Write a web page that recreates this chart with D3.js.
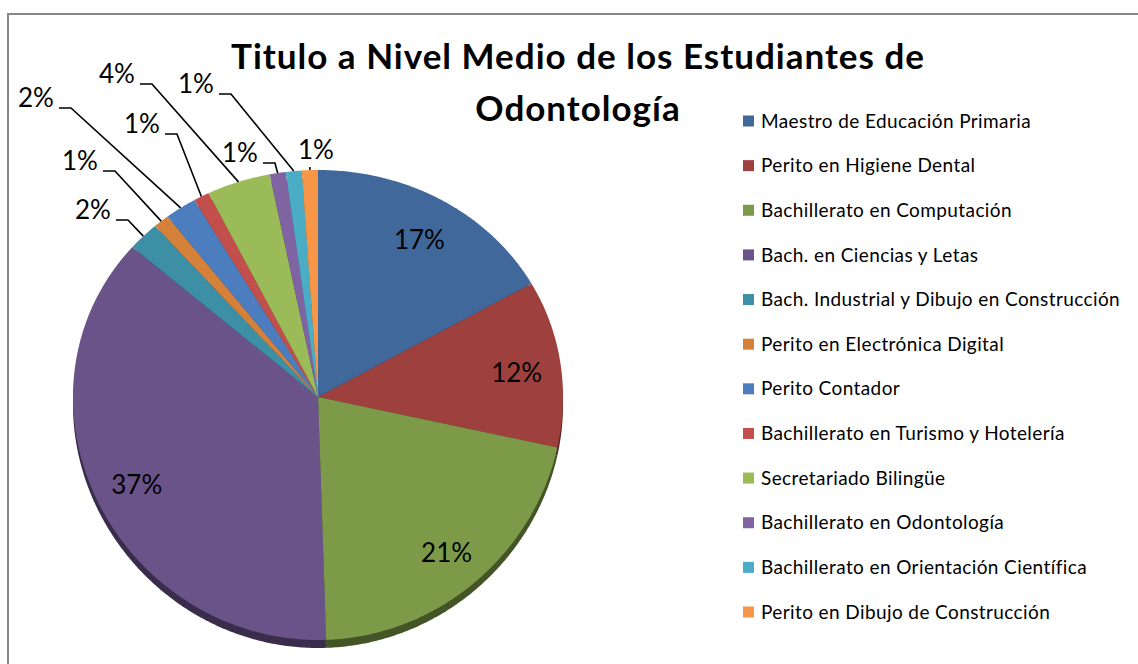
<!DOCTYPE html>
<meta charset="utf-8">
<style>
body { margin: 0; background: #fff; }
text { font-family: Lato, "Open Sans", sans-serif; fill: #000; }
.title { font-weight: bold; font-size: 35px; letter-spacing: 1px; }
.lbl { font-size: 26px; }
.legend text { font-size: 19px; letter-spacing: 0.4px; }
.leader { fill: none; stroke: #000; stroke-width: 1.6px; }
</style>
<body>
<script src="https://d3js.org/d3.v7.min.js"></script>
<script>

// data
var categories = ["Maestro de Educación Primaria", "Perito en Higiene Dental", "Bachillerato en Computación",
  "Bach. en Ciencias y Letas", "Bach. Industrial y Dibujo en Construcción", "Perito en Electrónica Digital",
  "Perito Contador", "Bachillerato en Turismo y Hotelería", "Secretariado Bilingüe",
  "Bachillerato en Odontología", "Bachillerato en Orientación Científica", "Perito en Dibujo de Construcción"];
var counts = [16, 11, 20, 35, 2, 1, 2, 1, 4, 1, 1, 1];
var colors = ["#41689a", "#9e413e", "#7c9a47", "#6a5389", "#3d8fa5", "#d6813a",
  "#4c7ebf", "#c24f4c", "#9bbb59", "#8064a2", "#4bacc6", "#f79646"];
var titleLines = ["Titulo a Nivel Medio de los Estudiantes de", "Odontología"];
// outside label placement (text centre x, baseline y); null = inside label
var labelPos = [null, null, null, null, [93, 219], [80, 170], [36, 107], [142, 133],
  [117, 83], [240, 162], [196, 93], [316, 159]];

var W = 1138, H = 664;
var cx = 318, cy = 397, rx = 245, ryMid = 235, tilt = 8, depth = 8;

var svg = d3.select("body").append("svg")
    .attr("width", W)
    .attr("height", H);

// chart border
svg.append("path")
    .attr("d", "M8," + H + "V14H" + W)
    .attr("fill", "none")
    .attr("stroke", "#878787")
    .attr("stroke-width", 2);

var total = d3.sum(counts);
var fmt = d3.format(".0%");

var pie = d3.pie().sort(null).value(function(d) { return d; });
var arcs = pie(counts);

// project an angle (clockwise from 12 o'clock) and radius fraction onto the tilted pie
function proj(a, r) {
  var c = Math.cos(a), s = Math.sin(a);
  return [cx + r * rx * s, cy - r * c * (ryMid - tilt * c)];
}

var line = d3.line();
function slicePath(d) {
  var pts = [proj(0, 0)];
  var n = Math.max(2, Math.ceil((d.endAngle - d.startAngle) / 0.01));
  for (var i = 0; i <= n; i++) {
    pts.push(proj(d.startAngle + (d.endAngle - d.startAngle) * i / n, 1));
  }
  return line(pts) + "Z";
}

// side of the pie (shifted copy, darker)
svg.append("g")
    .attr("transform", "translate(0," + depth + ")")
  .selectAll("path")
    .data(arcs)
  .enter().append("path")
    .attr("d", slicePath)
    .attr("fill", function(d, i) { return d3.color(colors[i]).darker(1.7); });

// top faces
svg.append("g")
  .selectAll("path")
    .data(arcs)
  .enter().append("path")
    .attr("d", slicePath)
    .attr("fill", function(d, i) { return colors[i]; });

// inside labels
svg.append("g")
  .selectAll("text")
    .data(arcs.filter(function(d, i) { return !labelPos[i]; }))
  .enter().append("text")
    .attr("class", "lbl")
    .attr("text-anchor", "middle")
    .attr("dy", "0.5em")
    .attr("x", function(d) { return proj((d.startAngle + d.endAngle) / 2, 0.82)[0]; })
    .attr("y", function(d) { return proj((d.startAngle + d.endAngle) / 2, 0.82)[1]; })
    .text(function(d) { return fmt(d.value / total); });

// outside labels with leader lines
var outG = svg.append("g");
arcs.forEach(function(d, i) {
  var p = labelPos[i];
  if (!p) return;
  var t = outG.append("text")
      .attr("class", "lbl")
      .attr("text-anchor", "middle")
      .attr("x", p[0])
      .attr("y", p[1])
      .text(fmt(d.value / total));
  var w = t.node().getComputedTextLength();
  var rim = proj((d.startAngle + d.endAngle) / 2, 1);
  var pts;
  if (rim[0] < p[0] + w / 2) {
    pts = [[rim[0], p[1] + 8], rim];
  } else {
    var x0 = p[0] + w / 2 + 5;
    pts = [[x0, p[1] + 1], [x0 + 12, p[1] + 1], rim];
  }
  outG.append("path")
      .attr("class", "leader")
      .attr("d", line(pts));
});

// title
svg.append("text")
    .attr("class", "title")
    .attr("text-anchor", "middle")
    .selectAll("tspan")
    .data(titleLines)
  .enter().append("tspan")
    .attr("x", 578)
    .attr("y", function(d, i) { return 69 + i * 52; })
    .text(function(d) { return d; });

// legend
var legY = d3.scalePoint().domain(categories).range([121, 612]);
var leg = svg.append("g")
    .attr("class", "legend")
  .selectAll("g")
    .data(categories)
  .enter().append("g")
    .attr("transform", function(d) { return "translate(743," + legY(d) + ")"; });

leg.append("rect")
    .attr("y", -5.5)
    .attr("width", 11)
    .attr("height", 11)
    .attr("fill", function(d, i) { return colors[i]; });

leg.append("text")
    .attr("x", 18)
    .attr("dy", "0.35em")
    .text(function(d) { return d; });

</script>
</body>
